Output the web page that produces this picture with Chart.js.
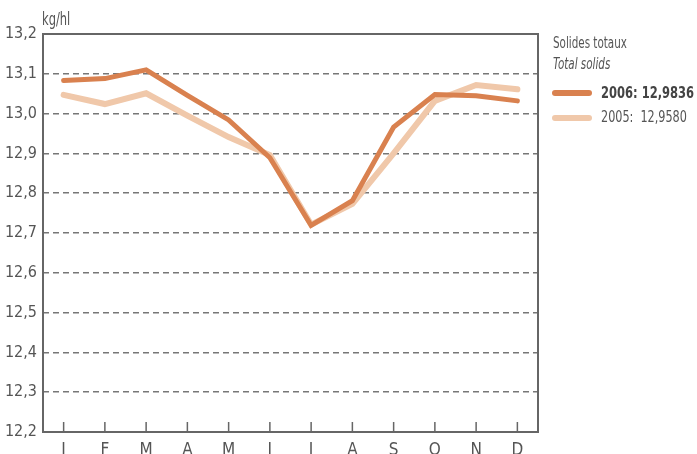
<!DOCTYPE html>
<html>
<head>
<meta charset="utf-8">
<script src="https://cdn.jsdelivr.net/npm/chart.js@4/dist/chart.umd.min.js"></script>
<style>
body{margin:0;background:#fff}
#wrap{position:relative;width:697px;height:454px;overflow:hidden;font-family:'DejaVu Sans Condensed','Liberation Sans Narrow',sans-serif;color:#555}
#unit{position:absolute;left:42px;top:9px;font-size:17px;transform:scaleX(0.75);transform-origin:left}
.leg{position:absolute;left:553px;font-size:16px;white-space:nowrap;transform-origin:left;transform:scaleX(0.72)}
.sw{position:absolute;left:552px;width:40px;height:6px;border-radius:3px}
</style>
</head>
<body>
<div id="wrap">
<canvas id="chart" width="697" height="454"></canvas>
<div id="unit">kg/hl</div>
<div class="leg" style="top:33px">Solides totaux</div>
<div class="leg" style="top:54px;font-style:italic">Total solids</div>
<div class="sw" style="top:90px;background:#d9814f"></div>
<div class="leg" style="left:601px;top:83px;font-weight:bold;color:#444;transform:scaleX(0.8)">2006: 12,9836</div>
<div class="sw" style="top:115px;background:#f0c8aa"></div>
<div class="leg" style="left:601px;top:107px;transform:scaleX(0.78)">2005:&nbsp; 12,9580</div>
</div>
<script>
const months=["J","F","M","A","M","J","J","A","S","O","N","D"]
const solids2006=[13.083,13.088,13.110,13.046,12.984,12.889,12.719,12.781,12.966,13.048,13.045,13.032]
const solids2005=[13.047,13.024,13.051,12.995,12.941,12.896,12.721,12.773,12.900,13.032,13.072,13.061]
const yTicks=[12.2,12.3,12.4,12.5,12.6,12.7,12.8,12.9,13.0,13.1,13.2]

const fontFamily="'DejaVu Sans Condensed','Liberation Sans Narrow',sans-serif"

// box round the plot and small ticks standing on the bottom axis
const frame={
id:"frame",
beforeDatasetsDraw(chart){
const {ctx,chartArea:a,scales}=chart
ctx.save()
ctx.strokeStyle="#666"
ctx.lineWidth=2
ctx.strokeRect(a.left,a.top,a.right-a.left,a.bottom-a.top)
ctx.lineWidth=1.5
ctx.beginPath()
months.forEach((m,i)=>{
const x=scales.x.getPixelForTick(i)
ctx.moveTo(x,a.bottom)
ctx.lineTo(x,a.bottom-10)
})
ctx.stroke()
ctx.restore()
}
}

new Chart(document.getElementById("chart"),{
type:"line",
data:{
labels:months,
datasets:[{
data:solids2006,
borderColor:"#d9814f",
borderWidth:5,
pointRadius:0,
tension:0,
borderCapStyle:"round"
},{
data:solids2005,
borderColor:"#f0c8aa",
borderWidth:6,
pointRadius:0,
tension:0,
borderCapStyle:"round"
}]
},
options:{
responsive:false,
devicePixelRatio:1,
animation:false,
layout:{padding:{top:34,right:159,left:0,bottom:0}},
plugins:{legend:{display:false},tooltip:{enabled:false}},
scales:{
x:{
offset:true,
grid:{display:false},
border:{display:false},
ticks:{color:"#555",padding:0,font:{family:fontFamily,size:17}},
afterFit(s){s.height=22}
},
y:{
min:12.2,
max:13.2,
afterBuildTicks(s){s.ticks=yTicks.map(v=>({value:v}))},
grid:{color:"#777",lineWidth:1.5,drawTicks:false},
border:{display:false,dash:[6,4]},
ticks:{
color:"#555",
padding:6,
font:{family:fontFamily,size:16},
callback:v=>v.toFixed(1).replace(".",",")
},
afterFit(s){s.width=43}
}
}
},
plugins:[frame]
})
</script>
</body>
</html>
